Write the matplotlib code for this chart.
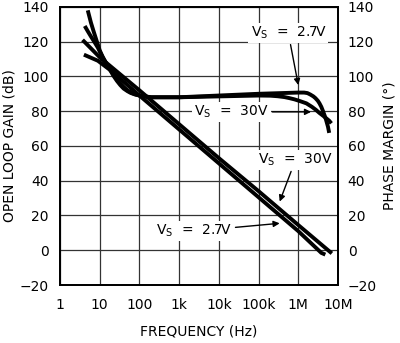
import numpy as np
import matplotlib
matplotlib.use('Agg')
import matplotlib.pyplot as plt

# open loop gain (dB) vs frequency
gain_30v_f = [3.7, 10, 100, 1e3, 1e4, 1e5, 1e6, 7e6]
gain_30v = [121, 111, 92, 72.5, 53, 34, 14.5, -1.8]
gain_27v_f = [4, 9, 20, 100, 1e3, 1e4, 1e5, 1e6, 3.8e6, 4.8e6]
gain_27v = [112.5, 109, 103, 89, 69.5, 50, 30.5, 11, -1.5, -2.5]

# phase margin (deg)
phase_30v_f = [5, 6, 7, 8.5, 10, 12, 15, 18, 22, 27, 33, 40, 50, 60, 75, 100, 150, 200,
               1e3, 1e4, 1e5, 2e5, 3e5, 4.5e5, 6e5, 8e5, 1.1e6, 1.6e6, 2.2e6, 2.8e6, 3.4e6,
               4.2e6, 5e6, 6e6, 6.8e6]
phase_30v = [138, 131, 126, 120, 115, 111, 107, 104, 100.5, 97.5, 95, 93, 91.5, 90.5, 89.7,
             89, 88.4, 88, 88, 88.5, 89, 88.9, 88.6, 88.1, 87.5, 86.8, 85.8, 84.5, 82.5,
             80.7, 79, 77.4, 76, 74.5, 73]
phase_27v_f = [4.2, 5, 6, 7.5, 9, 11, 13, 16, 20, 25, 30, 40, 50, 65, 80, 100, 150, 200,
               1e3, 1e4, 1e5, 1e6, 1.4e6, 1.7e6, 2e6, 2.4e6, 2.7e6, 3.1e6, 3.4e6, 3.8e6,
               4.2e6, 4.6e6, 5e6, 5.6e6, 6e6]
phase_27v = [129, 126, 123, 119.5, 116.5, 112.5, 109.5, 106, 102.5, 99.5, 97, 94, 92, 90.5,
             89.6, 89, 88.3, 88, 88, 89, 90, 90.7, 90.7, 90.4, 89.6, 88.5, 87.5, 86, 84.6,
             82.5, 80, 77.5, 75, 71, 67.5]

x_ticks = [1, 10, 100, 1e3, 1e4, 1e5, 1e6, 1e7]
x_labels = ['1', '10', '100', '1k', '10k', '100k', '1M', '10M']
y_ticks = [-20, 0, 20, 40, 60, 80, 100, 120, 140]

plt.rcParams['font.family'] = ['DejaVu Sans']
fig = plt.figure(figsize=(4, 3.43), dpi=100)
ax = fig.add_axes([0.15, 0.169, 0.695, 0.811])
ax2 = ax.twinx()

lw = 2.8
ax.plot(gain_30v_f, gain_30v, color='k', lw=lw, solid_capstyle='butt', solid_joinstyle='round')
ax.plot(gain_27v_f, gain_27v, color='k', lw=lw, solid_capstyle='butt', solid_joinstyle='round')
ax2.plot(phase_30v_f, phase_30v, color='k', lw=lw, solid_capstyle='butt', solid_joinstyle='round')
ax2.plot(phase_27v_f, phase_27v, color='k', lw=lw, solid_capstyle='butt', solid_joinstyle='round')

for a in (ax, ax2):
    a.set_xscale('log')
    a.set_xlim(1, 1e7)
    a.set_ylim(-20, 140)
    a.set_yticks(y_ticks)
    a.tick_params(length=0, labelsize=10)
    for s in a.spines.values():
        s.set_linewidth(1.3)

ax.set_xticks(x_ticks)
ax.set_xticklabels(x_labels)
ax.xaxis.set_minor_locator(matplotlib.ticker.NullLocator())
ax.tick_params(axis='x', pad=9)
ax.tick_params(axis='y', pad=8)
ax2.tick_params(axis='y', pad=7)
ax.grid(True, color='#333333', lw=0.9)
ax.set_axisbelow(True)

ax.set_xlabel('FREQUENCY (Hz)', fontsize=10, labelpad=9)
ax.set_ylabel('OPEN LOOP GAIN (dB)', fontsize=10, labelpad=2)
ax2.set_ylabel('PHASE MARGIN (°)', fontsize=10, labelpad=4)

box = dict(boxstyle='square,pad=0.15', fc='white', ec='none')
arr = dict(arrowstyle='-|>', color='k', lw=1.0, mutation_scale=9, shrinkA=1, shrinkB=0)
vs = 'V$_\\mathregular{S}$'

ax2.annotate(vs + '  =  2.7V', xy=(1e6, 95), xytext=(5.6e5, 125),
             ha='center', va='center', fontsize=10, bbox=box, arrowprops=arr)
ax2.annotate(vs + '  =  30V', xy=(2.1e6, 79.6), xytext=(2.1e4, 79.6),
             ha='center', va='center', fontsize=10, bbox=box, arrowprops=arr)
ax.annotate(vs + '  =  30V', xy=(3.4e5, 28), xytext=(8.5e5, 52),
            ha='center', va='center', fontsize=10, bbox=box, arrowprops=arr)
ax.annotate(vs + '  =  2.7V', xy=(3.4e5, 15.5), xytext=(2.4e3, 11),
            ha='center', va='center', fontsize=10, bbox=box, arrowprops=arr)

fig.savefig('out.png', dpi=100)
